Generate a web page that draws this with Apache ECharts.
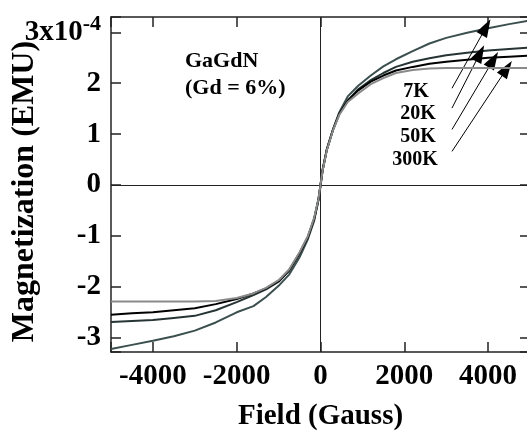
<!DOCTYPE html>
<html><head><meta charset="utf-8">
<script src="https://cdn.jsdelivr.net/npm/echarts@6/dist/echarts.min.js"></script>
<style>html,body{margin:0;padding:0;background:#fff}#c{width:527px;height:437px}</style>
</head><body><div id="c"></div>
<script>
// Field (Gauss)
const field = [-5000,-4500,-4000,-3500,-3000,-2500,-2000,-1600,-1300,-1000,-750,-500,-300,-150,-50,0,50,150,300,450,650,900,1200,1500,1800,2200,2600,3000,3500,4000,4500,5000];
// Magnetization (x10^-4 EMU)
const m7K   = [-3.22,-3.14,-3.06,-2.97,-2.86,-2.70,-2.50,-2.38,-2.20,-1.98,-1.76,-1.42,-1.06,-0.70,-0.30,-0.02,0.30,0.70,1.10,1.43,1.74,1.95,2.15,2.33,2.47,2.63,2.78,2.89,2.99,3.08,3.16,3.23];
const m20K  = [-2.69,-2.67,-2.65,-2.61,-2.57,-2.46,-2.30,-2.16,-2.05,-1.90,-1.68,-1.34,-1.02,-0.66,-0.29,0,0.29,0.69,1.09,1.40,1.66,1.88,2.06,2.20,2.32,2.42,2.49,2.55,2.60,2.64,2.67,2.70];
const m50K  = [-2.55,-2.52,-2.50,-2.46,-2.42,-2.34,-2.24,-2.13,-2.03,-1.89,-1.68,-1.34,-1.02,-0.66,-0.29,0,0.29,0.69,1.09,1.40,1.65,1.86,2.03,2.15,2.25,2.32,2.38,2.42,2.46,2.50,2.52,2.54];
const m300K = [-2.29,-2.29,-2.29,-2.29,-2.29,-2.28,-2.22,-2.13,-2.02,-1.87,-1.66,-1.32,-1.00,-0.64,-0.28,0,0.28,0.68,1.08,1.38,1.63,1.80,1.98,2.10,2.20,2.26,2.29,2.30,2.30,2.30,2.30,2.30];
const seriesNames = ['7K','20K','50K','300K'];
const xTicks = [-4000,-2000,0,2000,4000];
const yTicks = [-3,-2,-1,0,1,2,3];
// Arrow annotations: [startField, startM, endField, endM]
const arrows = [[3138,1.90,3952,3.10],[3138,1.51,3808,2.59],[3138,1.09,4127,2.46],[3138,0.66,4448,2.29]];

const FONT = '"Liberation Serif", "Times New Roman", serif';
const chart = echarts.init(document.getElementById('c'));
const pairs = arr => field.map((x,i)=>[x, arr[i]]);
const colors = ['#3b4f4e','#263434','#000000','#8a8a8a'];
const data = [m7K, m20K, m50K, m300K];

const axisLineStyle = {color:'#222', width:1.5};
const series = data.map((d,i)=>({
  name: seriesNames[i], type:'line', data: pairs(d), showSymbol:false, symbol:'none',
  lineStyle:{color:colors[i], width:2}, z: 3 + i, animation:false
}));
series[0].markLine = {
  silent:true, symbol:'none', animation:false,
  label:{show:false},
  lineStyle:{color:'#222', width:1, type:'solid'},
  data:[{xAxis:0},{yAxis:0}]
};
series[2].markLine = {
  silent:true, symbol:['none','triangle'], symbolSize:[12,18], animation:false,
  label:{show:false},
  lineStyle:{color:'#000', width:1, type:'solid'},
  data: arrows.map(a=>[{coord:[a[0],a[1]]},{coord:[a[2],a[3]]}])
};

chart.setOption({
  animation:false,
  backgroundColor:'#fff',
  grid:{left:111, top:17, width:419, height:335, containLabel:false, outerBoundsMode:'none'},
  xAxis:[{
    type:'value', min:-5000, max:5000, splitNumber:5, position:'bottom',
    axisLine:{show:true, onZero:false, lineStyle:axisLineStyle},
    axisTick:{show:true, inside:true, length:10, lineStyle:axisLineStyle},
    splitLine:{show:false},
    axisLabel:{margin:10, color:'#000', fontFamily:FONT, fontWeight:'bold', fontSize:29,
      formatter: v => xTicks.includes(v) ? String(v) : ''},
    name:'Field (Gauss)', nameLocation:'middle', nameGap:50, nameMoveOverlap:false,
    nameTextStyle:{color:'#000', fontFamily:FONT, fontWeight:'bold', fontSize:29}
  },{
    type:'value', min:-5000, max:5000, splitNumber:5, position:'top',
    axisLine:{show:true, onZero:false, lineStyle:axisLineStyle},
    axisTick:{show:true, inside:true, length:10, lineStyle:axisLineStyle},
    splitLine:{show:false}, axisLabel:{show:false}
  }],
  yAxis:[{
    type:'value', min:-3.28, max:3.3, splitNumber:7, position:'left',
    axisLine:{show:true, onZero:false, lineStyle:axisLineStyle},
    axisTick:{show:true, inside:true, length:10, lineStyle:axisLineStyle},
    splitLine:{show:false},
    axisLabel:{margin:10, color:'#000', fontFamily:FONT, fontWeight:'bold', fontSize:29,
      formatter: v => {
        const r = Math.round(v);
        if (Math.abs(v-r) > 1e-6 || !yTicks.includes(r)) return '';
        if (r === 3) return '{b|3x10}{s|-4}';
        return String(r);
      },
      rich:{
        b:{fontFamily:FONT, fontWeight:'bold', fontSize:29, color:'#000'},
        s:{fontFamily:FONT, fontWeight:'bold', fontSize:22, color:'#000', padding:[0,0,16,0]}
      }
    },
    name:'Magnetization (EMU)', nameLocation:'middle', nameGap:70, nameRotate:90, nameMoveOverlap:false,
    nameTextStyle:{color:'#000', fontFamily:FONT, fontWeight:'bold', fontSize:32, padding:[0,14,0,0]}
  },{
    type:'value', min:-3.28, max:3.3, splitNumber:7, position:'right',
    axisLine:{show:true, onZero:false, lineStyle:axisLineStyle},
    axisTick:{show:true, inside:true, length:10, lineStyle:axisLineStyle},
    splitLine:{show:false}, axisLabel:{show:false}
  }],
  graphic:[
    {type:'text', x:185, y:61, style:{text:'GaGdN', font:'bold 22px ' + FONT, fill:'#000', textVerticalAlign:'middle'}},
    {type:'text', x:185, y:88, style:{text:'(Gd = 6%)', font:'bold 22px ' + FONT, fill:'#000', textVerticalAlign:'middle'}},
    {type:'text', x:416, y:92, style:{text:seriesNames[0], font:'bold 20px ' + FONT, fill:'#000', textAlign:'center', textVerticalAlign:'middle'}},
    {type:'text', x:418, y:114, style:{text:seriesNames[1], font:'bold 20px ' + FONT, fill:'#000', textAlign:'center', textVerticalAlign:'middle'}},
    {type:'text', x:418, y:137, style:{text:seriesNames[2], font:'bold 20px ' + FONT, fill:'#000', textAlign:'center', textVerticalAlign:'middle'}},
    {type:'text', x:415, y:160, style:{text:seriesNames[3], font:'bold 20px ' + FONT, fill:'#000', textAlign:'center', textVerticalAlign:'middle'}}
  ],
  series: series
});
</script></body></html>
